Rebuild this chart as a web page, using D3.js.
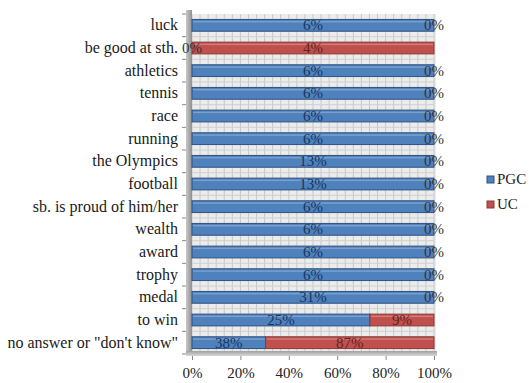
<!DOCTYPE html>
<html><head><meta charset="utf-8">
<script src="https://cdn.jsdelivr.net/npm/d3@7"></script>
<style>body{margin:0;background:#fff}svg{display:block}text{font-family:'Liberation Serif','Times New Roman',serif}</style>
</head><body>
<script>
const categories = ["luck","be good at sth.","athletics","tennis","race","running","the Olympics","football","sb. is proud of him/her","wealth","award","trophy","medal","to win","no answer or \"don't know\""];
const pgc = [6,0,6,6,6,6,13,13,6,6,6,6,31,25,38];
const uc  = [0,4,0,0,0,0,0,0,0,0,0,0,0,9,87];
const seriesNames = ["PGC","UC"];
const xTicks = [0,0.2,0.4,0.6,0.8,1];

const W=529,H=383;
const svg=d3.select("body").append("svg").attr("width",W).attr("height",H);
const x=d3.scaleLinear().domain([0,1]).range([192,434]);
const y=d3.scaleBand().domain(categories).range([14,354]).paddingInner(0.48).paddingOuter(0.24);
const fills={PGC:"#4f81bd",UC:"#c0504d"};
const strokes={PGC:"#2c5282",UC:"#8c3836"};
const txt={PGC:"#17375e",UC:"#632523"};

const defs=svg.append("defs");
const g1=defs.append("linearGradient").attr("id","wall").attr("x1",0).attr("x2",1);
g1.append("stop").attr("offset",0).attr("stop-color","#c8c8c8");
g1.append("stop").attr("offset",1).attr("stop-color","#909090");
const g2=defs.append("linearGradient").attr("id","floor").attr("x1",0).attr("x2",0).attr("y1",0).attr("y2",1);
g2.append("stop").attr("offset",0).attr("stop-color","#a0a0a0");
g2.append("stop").attr("offset",1).attr("stop-color","#d8d8d8");

svg.append("rect").attr("x",x(0)).attr("y",14).attr("width",x(1)-x(0)+2).attr("height",340).attr("fill","#ececec");
const minor=d3.range(0,1.0001,1/30);
svg.append("g").selectAll("line").data(minor).join("line")
  .attr("x1",d=>x(d)).attr("x2",d=>x(d)).attr("y1",14).attr("y2",352)
  .attr("stroke","#c8c8c8").attr("stroke-width",1);
const step=y.step();
svg.append("g").selectAll("line").data(categories).join("line")
  .attr("x1",x(0)).attr("x2",x(1)).attr("y1",d=>y(d)+y.bandwidth()+(step-y.bandwidth())/2).attr("y2",d=>y(d)+y.bandwidth()+(step-y.bandwidth())/2)
  .attr("stroke","#d0d0d0");

svg.append("rect").attr("x",186).attr("y",10).attr("width",6).attr("height",346).attr("fill","url(#wall)");
svg.append("rect").attr("x",186).attr("y",351).attr("width",x(1)-186+3).attr("height",5).attr("fill","url(#floor)");

svg.append("g").selectAll("line").data(d3.range(categories.length+1)).join("line")
  .attr("x1",182).attr("x2",186).attr("y1",i=>14+i*step).attr("y2",i=>14+i*step).attr("stroke","#888");
const xAxis=d3.axisBottom(x).tickValues(xTicks).tickFormat(d3.format(".0%")).tickSize(4).tickPadding(7);
const ax=svg.append("g").attr("transform","translate(0,356)").call(xAxis);
ax.select(".domain").remove();
ax.selectAll("line").attr("stroke","#888");
ax.selectAll("text").attr("font-family",null).attr("font-size",15).attr("fill","#222");

const rows=categories.map((c,i)=>({c,PGC:pgc[i],UC:uc[i],total:pgc[i]+uc[i]}));
const segs=[];
rows.forEach(r=>{
  let x0=0;
  seriesNames.forEach(s=>{
    const v=r.total?r[s]/r.total:0;
    segs.push({c:r.c,s,val:r[s],x0,x1:x0+v});
    x0+=v;
  });
});
svg.append("g").selectAll("rect").data(segs.filter(d=>d.x1>d.x0)).join("rect")
  .attr("x",d=>x(d.x0)).attr("width",d=>x(d.x1)-x(d.x0))
  .attr("y",d=>y(d.c)).attr("height",y.bandwidth())
  .attr("fill",d=>fills[d.s]).attr("stroke",d=>strokes[d.s]).attr("stroke-width",1);
svg.append("g").selectAll("rect").data(segs.filter(d=>d.x1>d.x0)).join("rect")
  .attr("x",d=>x(d.x0)+1).attr("width",d=>Math.max(0,x(d.x1)-x(d.x0)-2))
  .attr("y",d=>y(d.c)+1.5).attr("height",1.5)
  .attr("fill","#fff").attr("opacity",0.25);

svg.append("g").selectAll("text").data(segs).join("text")
  .attr("x",d=>x((d.x0+d.x1)/2)).attr("y",d=>y(d.c)+y.bandwidth()/2+5)
  .attr("text-anchor","middle").attr("font-size",15)
  .attr("fill",d=>d.x1>d.x0?txt[d.s]:"#333")
  .text(d=>d.val+"%");

svg.append("g").selectAll("text").data(categories).join("text")
  .attr("x",178).attr("y",d=>y(d)+y.bandwidth()/2+5)
  .attr("text-anchor","end").attr("font-size",16).attr("fill","#1a1a1a")
  .text(d=>d);

const leg=svg.append("g").selectAll("g").data(seriesNames).join("g")
  .attr("transform",(d,i)=>`translate(487,${176+i*25})`);
leg.append("rect").attr("width",7).attr("height",7).attr("fill",d=>fills[d]).attr("stroke",d=>strokes[d]);
leg.append("text").attr("x",10).attr("y",8).attr("font-size",15).attr("fill","#222").text(d=>d);
</script>
</body></html>
